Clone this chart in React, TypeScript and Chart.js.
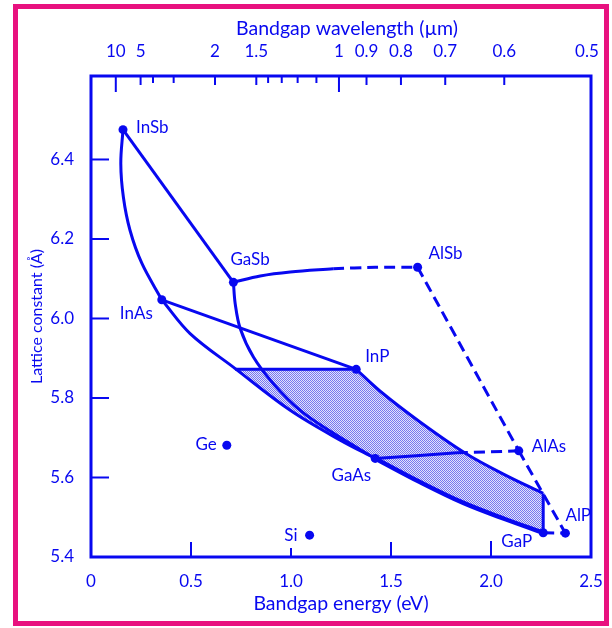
import React, { useEffect, useRef } from 'react';
import { Chart, registerables } from 'chart.js';

Chart.register(...registerables);

// ---------------- data ----------------
const compoundNames = ['InSb', 'GaSb', 'InAs', 'AlSb', 'InP', 'GaAs', 'AlAs', 'GaP', 'AlP', 'Ge', 'Si'];
const compoundEnergy = [0.16, 0.712, 0.354, 1.633, 1.326, 1.421, 2.139, 2.261, 2.372, 0.679, 1.093];
const compoundLattice = [6.475, 6.091, 6.047, 6.129, 5.872, 5.648, 5.667, 5.461, 5.46, 5.681, 5.455];

// solid connecting lines / curves: [energy (eV), lattice constant (Å)]
const inSbGaSb = [[0.16, 6.475], [0.712, 6.091]];
const inSbInAs = [[0.16, 6.475], [0.149, 6.39], [0.162, 6.305], [0.195, 6.222], [0.254, 6.139], [0.354, 6.047]];
const inAsGaAs = [[0.354, 6.047], [0.4955, 5.962], [0.721, 5.874], [0.996, 5.769], [1.246, 5.694], [1.421, 5.648]];
const gaSbGaAs = [[0.712, 6.091], [0.721, 6.037], [0.746, 5.975], [0.812, 5.903], [0.912, 5.836], [1.046, 5.769], [1.213, 5.711], [1.421, 5.648]];
const inAsInP = [[0.354, 6.047], [1.326, 5.872]];
const quatTop = [[0.721, 5.872], [1.326, 5.872]];
const inPEdge = [[1.326, 5.872], [1.446, 5.817], [1.647, 5.739], [1.872, 5.661], [2.072, 5.606], [2.261, 5.56]];
const quatRight = [[2.261, 5.56], [2.261, 5.461]];
const gaAsGaP = [[1.421, 5.648], [1.647, 5.588], [1.862, 5.536], [2.072, 5.495], [2.261, 5.461]];
const gaAsAlAsSolid = [[1.421, 5.648], [1.83, 5.662]];
const gaSbAlSbSolid = [[0.712, 6.091], [0.846, 6.107], [0.996, 6.117], [1.211, 6.125]];

// dashed lines (indirect gap)
const gaAsAlAsDashed = [[1.83, 5.662], [2.139, 5.667]];
const gaSbAlSbDashed = [[1.211, 6.125], [1.421, 6.129], [1.633, 6.129]];
const alSbAlAs = [[1.633, 6.129], [2.139, 5.667]];
const alAsAlP = [[2.139, 5.667], [2.372, 5.46]];
const gaPAlP = [[2.261, 5.461], [2.372, 5.46]];

// axes
const xTickValues = [0, 0.5, 1, 1.5, 2, 2.5];
const yTickValues = [5.4, 5.6, 5.8, 6.0, 6.2, 6.4];
const topTickWavelengths = [10, 5, 4, 3, 2, 1.5, 1.4, 1.3, 1.2, 1.1, 1, 0.9, 0.8, 0.7, 0.6, 0.5];
const topLabelWavelengths = [10, 5, 2, 1.5, 1, 0.9, 0.8, 0.7, 0.6, 0.5];
const HC = 1.2398; // eV·µm
const topTitle = 'Bandgap wavelength (µm)';

// ---------------- style ----------------
const BLUE = '#0808f0';
const FONT = 'Lato, "Open Sans", sans-serif';
const labelStyle: Record<string, { dx: number; dy: number; align: CanvasTextAlign }> = {
  InSb: { dx: 13, dy: -2, align: 'left' },
  GaSb: { dx: -3, dy: -23, align: 'left' },
  InAs: { dx: -9, dy: 14, align: 'right' },
  AlSb: { dx: 11, dy: -14, align: 'left' },
  InP: { dx: 9, dy: -13, align: 'left' },
  GaAs: { dx: -4, dy: 17, align: 'right' },
  AlAs: { dx: 13, dy: -4, align: 'left' },
  GaP: { dx: -11, dy: 9, align: 'right' },
  AlP: { dx: 0, dy: -18, align: 'left' },
  Ge: { dx: -10, dy: -1, align: 'right' },
  Si: { dx: -12, dy: 0, align: 'right' },
};
const xTickLen = [0, 15, 9, 15, 16, 0];

const toXY = (pts: number[][]) => pts.map(([x, y]) => ({ x, y }));

const framePlugin = {
  id: 'frame',
  afterDatasetsDraw(chart: any) {
    const { ctx, chartArea, scales } = chart;
    const { left, right, top, bottom } = chartArea;
    ctx.save();
    ctx.strokeStyle = BLUE;
    ctx.lineWidth = 2;
    const seg = (x1: number, y1: number, x2: number, y2: number) => {
      ctx.beginPath();
      ctx.moveTo(x1, y1);
      ctx.lineTo(x2, y2);
      ctx.stroke();
    };
    xTickValues.forEach((v, i) => {
      if (!xTickLen[i]) return;
      const px = scales.x.getPixelForValue(v);
      seg(px, bottom, px, bottom - xTickLen[i]);
    });
    yTickValues.forEach((v) => {
      if (v === 5.4) return;
      const py = scales.y.getPixelForValue(v);
      seg(left, py, left + 18, py);
    });
    topTickWavelengths.forEach((l) => {
      if (l === 0.5) return;
      const px = scales.x2.getPixelForValue(HC / l);
      const len = l === 10 || l === 1 ? 16 : topLabelWavelengths.includes(l) ? 9 : 7;
      seg(px, top, px, top + len);
    });
    ctx.lineWidth = 3;
    ctx.strokeRect(left, top, right - left, bottom - top);

    ctx.fillStyle = BLUE;
    ctx.font = `17px ${FONT}`;
    ctx.textBaseline = 'middle';
    compoundNames.forEach((n, i) => {
      const s = labelStyle[n];
      const px = scales.x.getPixelForValue(compoundEnergy[i]);
      const py = scales.y.getPixelForValue(compoundLattice[i]);
      ctx.textAlign = s.align;
      ctx.fillText(n, px + s.dx, py + s.dy);
    });

    ctx.font = `19.5px ${FONT}`;
    ctx.textAlign = 'center';
    ctx.fillText(topTitle, (left + right) / 2 + 6, 29);
    ctx.restore();
  },
};

export default function App() {
  const ref = useRef<HTMLCanvasElement | null>(null);

  useEffect(() => {
    const canvas = ref.current;
    if (!canvas) return;
    const ctx = canvas.getContext('2d')!;

    const pc = document.createElement('canvas');
    pc.width = 2;
    pc.height = 2;
    const pctx = pc.getContext('2d')!;
    pctx.fillStyle = '#e2e2fb';
    pctx.fillRect(0, 0, 2, 2);
    pctx.fillStyle = '#7676f0';
    pctx.fillRect(0, 0, 1, 1);
    pctx.fillRect(1, 1, 1, 1);
    const pattern = ctx.createPattern(pc, 'repeat');

    const polygon = [
      ...quatTop,
      ...inPEdge.slice(1),
      ...quatRight.slice(1),
      ...gaAsGaP.slice(0, -1).reverse(),
      ...inAsGaAs.slice(2, -1).reverse(),
    ];

    const line = (pts: number[][], extra: any = {}) => ({
      type: 'line',
      data: toXY(pts),
      borderColor: BLUE,
      borderWidth: 3,
      pointRadius: 0,
      fill: false,
      tension: 0.35,
      ...extra,
    });
    const dashed = (pts: number[][]) => line(pts, { borderDash: [11, 6], tension: 0.2 });

    const chart = new Chart(ctx, {
      type: 'line',
      data: {
        datasets: [
          {
            type: 'line',
            data: compoundEnergy.map((e, i) => ({ x: e, y: compoundLattice[i] })),
            showLine: false,
            pointRadius: 4.5,
            pointBackgroundColor: BLUE,
            pointBorderWidth: 0,
            pointHoverRadius: 4.5,
          } as any,
          line(inSbGaSb, { tension: 0 }),
          line(inSbInAs),
          line(inAsGaAs),
          line(gaSbGaAs),
          line(inAsInP, { tension: 0 }),
          line(quatTop, { tension: 0 }),
          line(inPEdge),
          line(quatRight, { tension: 0 }),
          line(gaAsGaP, { borderWidth: 4.5 }),
          line(gaAsAlAsSolid),
          line(gaSbAlSbSolid),
          dashed(gaAsAlAsDashed),
          dashed(gaSbAlSbDashed),
          dashed(alSbAlAs),
          dashed(alAsAlP),
          dashed(gaPAlP),
          {
            type: 'line',
            data: toXY(polygon),
            borderColor: 'transparent',
            borderWidth: 0,
            pointRadius: 0,
            tension: 0,
            fill: 'shape',
            backgroundColor: pattern,
          } as any,
        ] as any,
      },
      options: {
        animation: false,
        responsive: false,
        devicePixelRatio: 1,
        events: [],
        layout: { padding: { left: 0, top: 0, bottom: 0, right: 21 } },
        plugins: { legend: { display: false }, tooltip: { enabled: false } },
        scales: {
          x: {
            type: 'linear',
            position: 'bottom',
            min: 0,
            max: 2.5,
            grid: { display: false },
            border: { display: false },
            afterBuildTicks: (s: any) => {
              s.ticks = xTickValues.map((v) => ({ value: v }));
            },
            afterFit: (s: any) => {
              s.height = 71;
            },
            ticks: {
              color: BLUE,
              font: { family: FONT, size: 17 },
              padding: 6,
              autoSkip: false,
              maxRotation: 0,
              callback: (v: any) => (v === 0 ? '0' : Number(v).toFixed(1)),
            },
            title: {
              display: true,
              text: 'Bandgap energy (eV)',
              color: BLUE,
              font: { family: FONT, size: 19.5 },
              padding: { top: 0, bottom: 13 },
            },
          },
          x2: {
            type: 'linear',
            position: 'top',
            min: 0,
            max: 2.5,
            grid: { display: false },
            border: { display: false },
            afterBuildTicks: (s: any) => {
              s.ticks = topTickWavelengths.map((l) => ({ value: HC / l }));
            },
            afterFit: (s: any) => {
              s.height = 76;
            },
            ticks: {
              color: BLUE,
              font: { family: FONT, size: 17 },
              padding: 6,
              autoSkip: false,
              maxRotation: 0,
              callback: (_v: any, i: number) =>
                topLabelWavelengths.includes(topTickWavelengths[i]) ? String(topTickWavelengths[i]) : '',
            },
            title: { display: false },
          },
          y: {
            type: 'linear',
            position: 'left',
            min: 5.4,
            max: 6.61,
            grid: { display: false },
            border: { display: false },
            afterBuildTicks: (s: any) => {
              s.ticks = yTickValues.map((v) => ({ value: v }));
            },
            afterFit: (s: any) => {
              s.width = 91;
            },
            ticks: {
              color: BLUE,
              font: { family: FONT, size: 17 },
              padding: 9,
              callback: (v: any) => Number(v).toFixed(1),
            },
            title: {
              display: true,
              text: 'Lattice constant (Å)',
              color: BLUE,
              font: { family: FONT, size: 16 },
              padding: { top: 27, bottom: 0 },
            },
          },
        },
      } as any,
      plugins: [framePlugin],
    });

    return () => chart.destroy();
  }, []);

  return (
    <div style={{ position: 'absolute', left: 0, top: 0, width: 612, height: 628, background: '#fff' }}>
      <canvas ref={ref} width={612} height={628} style={{ position: 'absolute', left: 0, top: 0, display: 'block' }} />
      <div
        style={{
          position: 'absolute',
          left: 13,
          top: 4,
          width: 596,
          height: 622,
          boxSizing: 'border-box',
          border: '5px solid #e8117f',
          pointerEvents: 'none',
        }}
      />
    </div>
  );
}
